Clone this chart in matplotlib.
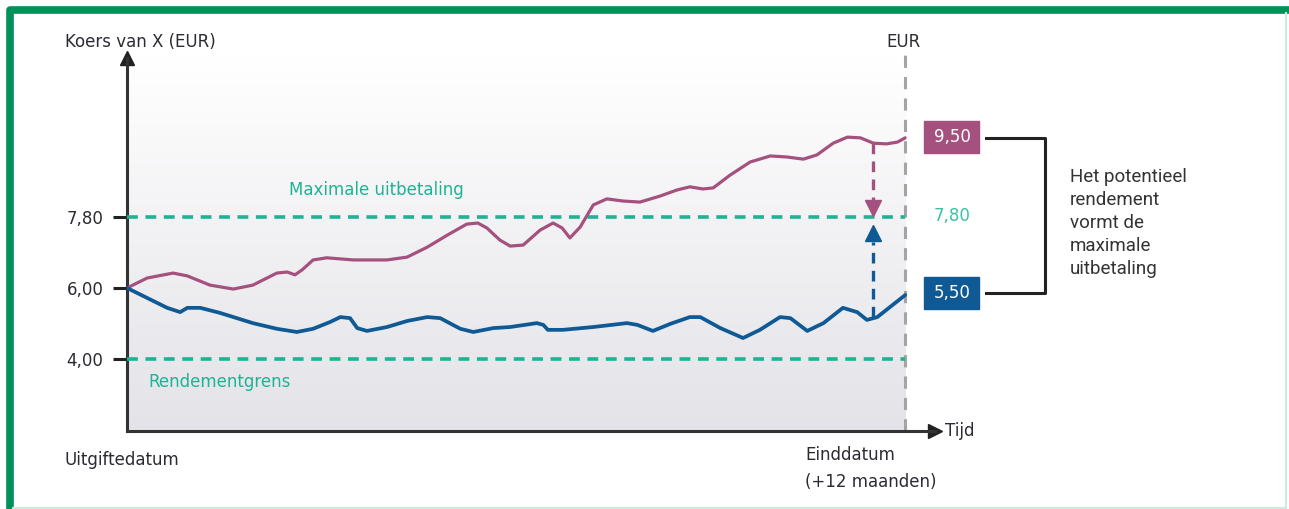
import matplotlib.pyplot as plt
import numpy as np
from matplotlib.lines import Line2D
from matplotlib.patches import Rectangle

# koers (schematisch), tijd in maanden na uitgiftedatum
pink_t = [0, 0.31, 0.71, 0.93, 1.28, 1.64, 1.94, 2.31, 2.47, 2.59, 2.70, 2.87, 3.08, 3.49, 4.01,
          4.32, 4.63, 4.94, 5.24, 5.41, 5.55, 5.75, 5.91, 6.11, 6.37, 6.57, 6.71, 6.83, 6.99, 7.19,
          7.40, 7.65, 7.91, 8.22, 8.48, 8.68, 8.88, 9.04, 9.30, 9.61, 9.92, 10.18, 10.43, 10.64,
          10.89, 11.11, 11.31, 11.51, 11.71, 11.88, 12.0]
pink_v = [6.0, 6.28, 6.42, 6.34, 6.08, 5.97, 6.08, 6.42, 6.45, 6.37, 6.51, 6.79, 6.85, 6.79, 6.79,
          6.87, 7.15, 7.49, 7.80, 7.83, 7.69, 7.35, 7.18, 7.21, 7.63, 7.83, 7.69, 7.41, 7.72, 8.34,
          8.51, 8.45, 8.42, 8.59, 8.76, 8.85, 8.79, 8.82, 9.18, 9.55, 9.72, 9.69, 9.63, 9.75,
          10.08, 10.25, 10.23, 10.08, 10.06, 10.11, 10.23]

blue_t = [0, 0.31, 0.62, 0.82, 0.93, 1.13, 1.43, 1.94, 2.31, 2.62, 2.87, 3.13, 3.29, 3.44, 3.55,
          3.70, 4.01, 4.32, 4.63, 4.83, 5.14, 5.34, 5.65, 5.91, 6.32, 6.42, 6.49, 6.72, 7.19, 7.71,
          7.87, 8.11, 8.38, 8.68, 8.84, 9.15, 9.50, 9.76, 10.07, 10.23, 10.49, 10.74, 11.04, 11.26,
          11.41, 11.57, 12.0]
blue_v = [6.0, 5.72, 5.44, 5.32, 5.44, 5.44, 5.30, 5.01, 4.85, 4.76, 4.85, 5.04, 5.18, 5.15, 4.87,
          4.79, 4.90, 5.07, 5.18, 5.15, 4.85, 4.76, 4.87, 4.90, 5.01, 4.96, 4.82, 4.82, 4.90, 5.01,
          4.96, 4.79, 4.99, 5.18, 5.18, 4.87, 4.59, 4.82, 5.18, 5.15, 4.79, 5.01, 5.44, 5.32,
          5.10, 5.18, 5.80]

y_ticks = [4.0, 6.0, 8.0]
y_labels = ['4,00', '6,00', '7,80']
payout_level = 8.0      # getekend als 7,80
barrier_level = 4.0
end_month = 12
arrow_month = 11.51

PINK = '#a5517f'
BLUE = '#0f5a95'
TEAL = '#1db395'
TEXT = '#2b2b33'

W, H = 1289, 509
fig = plt.figure(figsize=(W / 100, H / 100), dpi=100)


def fx(x):
    return x / W


def fy(y):
    return 1 - y / H


ymin, ymax = 1.97, 12.48
ax = fig.add_axes([fx(127), fy(431), fx(935) - fx(127), fy(58) - fy(431)])
ax.set_xlim(0, 12.46)
ax.set_ylim(ymin, ymax)

# achtergrond verloop
grad = np.linspace(0, 1, 256).reshape(-1, 1)
grad = np.dstack([1 - 0.11 * grad, 1 - 0.11 * grad, 1 - 0.09 * grad])
ax.imshow(grad, extent=[0, end_month, ymin, ymax], origin='upper', aspect='auto', zorder=0)

for s in ['top', 'right']:
    ax.spines[s].set_visible(False)
for s in ['left', 'bottom']:
    ax.spines[s].set_linewidth(2.2)
    ax.spines[s].set_color('#333333')
ax.plot(1, 0, '>', color='#222222', ms=10, transform=ax.transAxes, clip_on=False)
ax.plot(0, 1, '^', color='#222222', ms=10, transform=ax.transAxes, clip_on=False)

ax.set_xticks([])
ax.set_yticks(y_ticks)
ax.set_yticklabels(y_labels, fontsize=12, color=TEXT)
ax.tick_params(axis='y', length=10, width=2.2, color='#222222', pad=7)

# vertikale einddatum
ax.plot([end_month, end_month], [ymin, ymax + 0.15], color='#a4a4a4', lw=2.2,
        dashes=(4, 3), clip_on=False, zorder=2)

# horizontale niveaus
ax.plot([0, end_month], [payout_level] * 2, color=TEAL, lw=2.6, dashes=(3.0, 2.1), zorder=3)
ax.plot([0, end_month], [barrier_level] * 2, color=TEAL, lw=2.6, dashes=(3.0, 2.1), zorder=3)

# koerslijnen
ax.plot(pink_t, pink_v, color=PINK, lw=2.3, solid_joinstyle='round', solid_capstyle='round', zorder=4)
ax.plot(blue_t, blue_v, color=BLUE, lw=2.7, solid_joinstyle='round', solid_capstyle='round', zorder=4)

# pijlen naar de maximale uitbetaling
ax.plot([arrow_month] * 2, [10.08, 8.48], color=PINK, lw=2.4, dashes=(3.2, 2.2), zorder=5)
ax.plot(arrow_month, 8.25, 'v', color=PINK, ms=11, zorder=5)
ax.plot([arrow_month] * 2, [5.18, 7.30], color=BLUE, lw=2.4, dashes=(3.2, 2.2), zorder=5)
ax.plot(arrow_month, 7.55, '^', color=BLUE, ms=11, zorder=5)

ax.text(2.5, 8.75, 'Maximale uitbetaling', color=TEAL, fontsize=12, va='center', zorder=6)
ax.text(0.33, 3.35, 'Rendementgrens', color=TEAL, fontsize=12, va='center', zorder=6)

# teksten rond de grafiek
fig.text(fx(65), fy(42), 'Koers van X (EUR)', fontsize=12, color=TEXT, va='center')
fig.text(fx(903), fy(42), 'EUR', fontsize=12, color=TEXT, va='center', ha='center')
fig.text(fx(945), fy(431), 'Tijd', fontsize=12, color=TEXT, va='center')
fig.text(fx(65), fy(460), 'Uitgiftedatum', fontsize=12, color=TEXT, va='center')
fig.text(fx(805), fy(455), 'Einddatum', fontsize=12, color=TEXT, va='center')
fig.text(fx(805), fy(482), '(+12 maanden)', fontsize=12, color=TEXT, va='center')

# waardenlabels rechts
fig.patches.append(Rectangle((fx(924), fy(153)), fx(979) - fx(924), fy(121) - fy(153),
                             transform=fig.transFigure, color=PINK))
fig.text(fx(952), fy(137), '9,50', fontsize=12, color='white', ha='center', va='center')
fig.patches.append(Rectangle((fx(924), fy(309)), fx(979) - fx(924), fy(277) - fy(309),
                             transform=fig.transFigure, color=BLUE))
fig.text(fx(952), fy(293), '5,50', fontsize=12, color='white', ha='center', va='center')
fig.text(fx(952), fy(216), '7,80', fontsize=12, color='#3cc0a6', ha='center', va='center')

# accolade
fig.add_artist(Line2D([fx(986), fx(1045), fx(1045), fx(986)], [fy(138), fy(138), fy(293), fy(293)],
                      color='#222222', lw=2.2, transform=fig.transFigure))
fig.text(fx(1070), fy(223), 'Het potentieel\nrendement\nvormt de\nmaximale\nuitbetaling',
         fontsize=13.5, family='Roboto', color='#333333', va='center', ha='left', linespacing=1.35)

# kader
fig.add_artist(Line2D([fx(9.5), fx(9.5), fx(W)], [0, fy(9.5), fy(9.5)], color='#00905a', lw=5.5,
                      transform=fig.transFigure, solid_capstyle='butt'))
fig.add_artist(Line2D([fx(1286), fx(1286)], [fy(13), 0], color='#cfe9de', lw=1.5, transform=fig.transFigure))
fig.add_artist(Line2D([fx(13), fx(1286)], [fy(507.5), fy(507.5)], color='#cfe9de', lw=1.5,
                      transform=fig.transFigure))

fig.savefig('out.png', dpi=100)
